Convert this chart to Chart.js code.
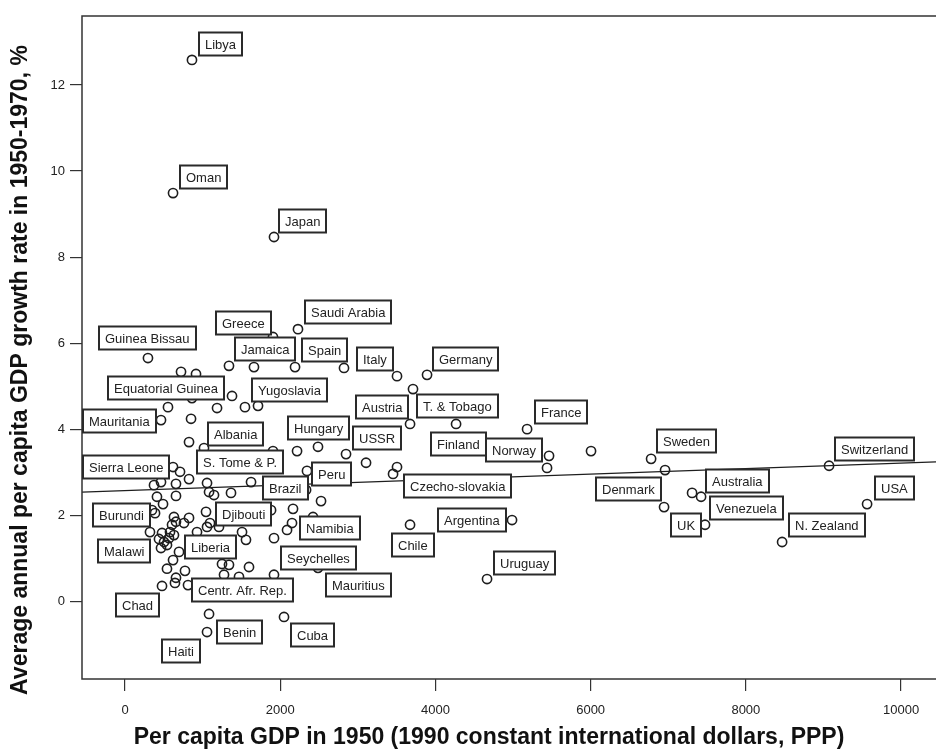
<!DOCTYPE html>
<html>
<head>
<meta charset="utf-8">
<script src="https://cdn.jsdelivr.net/npm/chart.js@4.4.1/dist/chart.umd.min.js"></script>
<style>
  html, body { margin: 0; padding: 0; background: #fff; }
  #wrap { width: 936px; height: 754px; }
</style>
</head>
<body>
<div id="wrap"><canvas id="chart" width="936" height="754"></canvas></div>
<script>
// GDP per capita 1950 vs growth 1950-1970

const gdp1950 = [
  863, 619, 1920, 2229, 1907, 296, 722, 915, 1340, 1662,
  2191, 2822, 3505, 3892, 3711, 1379, 863, 554, 1186, 1546,
  1714, 464, 851, 825, 1018, 1907, 2217, 2487, 2848, 3106,
  3505, 3454, 3673, 4266, 5181, 5464, 5438, 6005, 6779, 6959,
  9072, 7307, 7423, 6946, 7474, 9562, 8467, 4987, 3673, 4665,
  2345, 2333, 2526, 2165, 1882, 2423, 2152, 2088, 1920, 2487,
  1920, 2049, 1083, 1057, 619, 709, 825, 464, 374, 657,
  1057, 1083, 1147, 1366, 1624, 412, 657, 490, 348, 387,
  631, 657, 606, 825, 760, 1044, 1095, 322, 477, 580,
  438, 503, 567, 631, 541, 464, 928, 1057, 1211, 1508,
  1559, 696, 619, 541, 773, 657, 644, 477, 812, 1250,
  1340, 1598, 1276, 1469
];
const growth = [
  12.58, 9.49, 8.47, 6.33, 6.15, 5.66, 5.34, 5.29, 5.48, 5.45,
  5.45, 5.43, 5.24, 5.27, 4.94, 4.78, 4.73, 4.52, 4.50, 4.52,
  4.55, 4.22, 4.25, 3.71, 3.57, 3.50, 3.50, 3.60, 3.43, 3.23,
  3.13, 2.97, 4.13, 4.13, 4.01, 3.39, 3.11, 3.50, 3.32, 3.06,
  3.16, 2.53, 2.44, 2.20, 1.79, 2.27, 1.39, 1.90, 1.79, 0.53,
  3.04, 2.60, 2.34, 2.16, 2.13, 1.97, 1.83, 1.67, 1.48, 0.79,
  0.63, -0.35, -0.28, -0.70, 3.13, 3.02, 2.85, 2.78, 2.71, 2.74,
  2.76, 2.55, 2.48, 2.53, 2.78, 2.44, 2.46, 2.27, 2.13, 2.06,
  1.97, 1.86, 1.79, 1.95, 1.83, 2.09, 1.83, 1.62, 1.60, 1.62,
  1.46, 1.39, 1.48, 1.55, 1.32, 1.25, 1.62, 1.74, 1.74, 1.62,
  1.44, 1.16, 0.97, 0.77, 0.72, 0.56, 0.44, 0.37, 0.39, 0.88,
  0.86, 0.81, 0.63, 0.58
];

// country labels, placed (left edge, middle) in data units
const labelNames = [
  'Libya', 'Oman', 'Japan', 'Guinea Bissau', 'Greece', 'Saudi Arabia',
  'Jamaica', 'Spain', 'Italy', 'Germany', 'Equatorial Guinea', 'Yugoslavia',
  'Austria', 'T. & Tobago', 'France', 'Mauritania', 'Albania', 'Hungary',
  'USSR', 'Finland', 'Norway', 'Sweden', 'Switzerland', 'Sierra Leone',
  'S. Tome & P.', 'Peru', 'Brazil', 'Czecho-slovakia', 'Denmark', 'Australia',
  'USA', 'Venezuela', 'UK', 'N. Zealand', 'Burundi', 'Djibouti',
  'Namibia', 'Argentina', 'Chile', 'Malawi', 'Liberia', 'Seychelles',
  'Uruguay', 'Mauritius', 'Centr. Afr. Rep.', 'Chad', 'Benin', 'Cuba', 'Haiti'
];
const labelAtX = [
  954, 709, 1985, -335, 1173, 2320,
  1418, 2281, 2990, 3969, -219, 1637,
  2977, 3763, 5284, -541, 1070, 2101,
  2938, 3943, 4652, 6856, 9150, -541,
  928, 2410, 1778, 3595, 6070, 7487,
  9665, 7539, 7036, 8557, -412, 1173,
  2255, 4034, 3441, -348, 773, 2010,
  4755, 2590, 863, -116, 1186, 2139, 477
];
const labelAtY = [
  12.95, 9.86, 8.84, 6.13, 6.47, 6.73,
  5.87, 5.85, 5.64, 5.64, 4.97, 4.92,
  4.52, 4.55, 4.41, 4.20, 3.90, 4.04,
  3.81, 3.67, 3.53, 3.74, 3.55, 3.13,
  3.25, 2.97, 2.65, 2.69, 2.62, 2.81,
  2.65, 2.18, 1.79, 1.79, 2.02, 2.04,
  1.72, 1.90, 1.32, 1.18, 1.28, 1.02,
  0.91, 0.39, 0.28, -0.07, -0.70, -0.77, -1.14
];

const xTicks = [0, 2000, 4000, 6000, 8000, 10000];
const yTicks = [0, 2, 4, 6, 8, 10, 12];
const xRange = [-554, 10450];
const yRange = [-1.79, 13.6];

// linear fit line
const fitIntercept = 2.585;
const fitSlope = 0.0000636;

const xTitle = 'Per capita GDP in 1950 (1990 constant international dollars, PPP)';
const yTitle = 'Average annual per capita GDP growth rate in 1950-1970, %';

const ink = '#222';
const fontFam = '"Liberation Sans", Arial, sans-serif';

const labelsAndFrame = {
  id: 'labelsAndFrame',
  afterDatasetsDraw(chart) {
    const { ctx, chartArea: a, scales: { x, y } } = chart;
    ctx.save();
    // frame (right side sits just off the canvas, as in the original)
    ctx.strokeStyle = '#333';
    ctx.lineWidth = 1.5;
    ctx.strokeRect(a.left, a.top, a.right - a.left + 2, a.bottom - a.top);
    // label boxes
    ctx.font = '13px ' + fontFam;
    ctx.textBaseline = 'middle';
    ctx.textAlign = 'left';
    labelNames.forEach((name, i) => {
      const px = Math.round(x.getPixelForValue(labelAtX[i]));
      const py = Math.round(y.getPixelForValue(labelAtY[i]));
      const w = Math.round(ctx.measureText(name).width + 12);
      const h = 23;
      ctx.fillStyle = '#fff';
      ctx.fillRect(px, py - h / 2, w, h);
      ctx.lineWidth = 2;
      ctx.strokeStyle = '#2a2a2a';
      ctx.strokeRect(px, py - h / 2, w, h);
      ctx.fillStyle = ink;
      ctx.fillText(name, px + 6, py + 1);
    });
    ctx.restore();
  },
  afterDraw(chart) {
    const { ctx } = chart;
    ctx.save();
    ctx.fillStyle = '#111';
    ctx.font = 'bold 23px ' + fontFam;
    ctx.textAlign = 'center';
    ctx.textBaseline = 'middle';
    ctx.fillText(xTitle, 489, 738, 724);
    ctx.translate(21, 370);
    ctx.rotate(-Math.PI / 2);
    ctx.fillText(yTitle, 0, 0, 662);
    ctx.restore();
  }
};

const points = gdp1950.map((v, i) => ({ x: v, y: growth[i] }));
const fitLine = xRange.map(v => ({ x: v, y: fitIntercept + fitSlope * v }));

new Chart(document.getElementById('chart'), {
  type: 'scatter',
  data: {
    datasets: [
      {
        data: points,
        pointRadius: 4.6,
        pointBorderWidth: 1.6,
        borderColor: '#1e1e1e',
        backgroundColor: 'rgba(0,0,0,0)',
        pointHoverRadius: 4.6
      },
      {
        type: 'line',
        data: fitLine,
        borderColor: '#1e1e1e',
        borderWidth: 1.2,
        pointRadius: 0,
        fill: false
      }
    ]
  },
  options: {
    responsive: false,
    animation: false,
    devicePixelRatio: 1,
    layout: { autoPadding: false, padding: { top: 16, right: 0, left: 0, bottom: 0 } },
    plugins: { legend: { display: false }, tooltip: { enabled: false } },
    scales: {
      x: {
        type: 'linear',
        min: xRange[0],
        max: xRange[1],
        afterBuildTicks: s => { s.ticks = xTicks.map(v => ({ value: v })); },
        afterFit: s => { s.height = 75; s.paddingLeft = 0; s.paddingRight = 0; },
        grid: { drawOnChartArea: false, drawTicks: true, tickLength: 12, color: '#333', lineWidth: 1.2 },
        border: { display: false },
        ticks: {
          padding: 12, color: ink, maxRotation: 0, autoSkip: false,
          font: { size: 13, family: fontFam },
          callback: v => String(v)
        }
      },
      y: {
        type: 'linear',
        min: yRange[0],
        max: yRange[1],
        afterBuildTicks: s => { s.ticks = yTicks.map(v => ({ value: v })); },
        afterFit: s => { s.width = 82; s.paddingTop = 0; s.paddingBottom = 0; },
        grid: { drawOnChartArea: false, drawTicks: true, tickLength: 12, color: '#333', lineWidth: 1.2 },
        border: { display: false },
        ticks: {
          padding: 5, color: ink, autoSkip: false,
          font: { size: 13, family: fontFam },
          callback: v => String(v)
        }
      }
    }
  },
  plugins: [labelsAndFrame]
});
</script>
</body>
</html>
